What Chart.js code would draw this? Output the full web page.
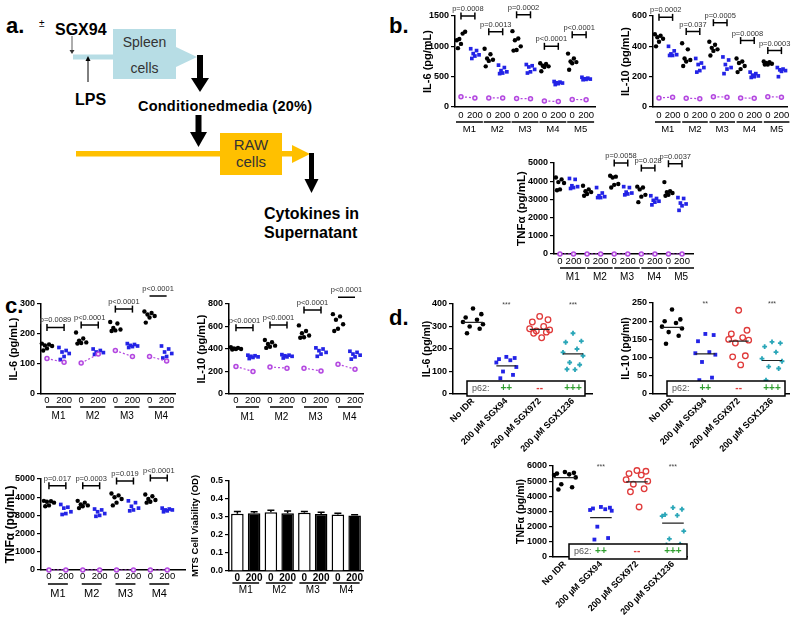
<!DOCTYPE html>
<html>
<head>
<meta charset="utf-8">
<script src="https://cdn.jsdelivr.net/npm/chart.js@4.4.1/dist/chart.umd.min.js"></script>
<style>
  body { margin: 0; background: #fff; width: 800px; height: 619px; position: relative; overflow: hidden; }
  canvas { position: absolute; }
  svg { position: absolute; left: 0; top: 0; }
</style>
</head>
<body>
<svg width="800" height="619" font-family="Liberation Sans, Arial, sans-serif">
  <text x="6" y="33" font-size="22" font-weight="bold">a.</text>
  <text x="389" y="33" font-size="22" font-weight="bold">b.</text>
  <text x="5" y="313" font-size="22" font-weight="bold">c.</text>
  <text x="389" y="325" font-size="22" font-weight="bold">d.</text>

  <text x="39" y="27" font-size="10">±</text>
  <text x="55" y="35" font-size="16" font-weight="bold">SGX94</text>
  <line x1="72" y1="36" x2="72" y2="50" stroke="#333" stroke-width="0.8"/>
  <polygon points="69.5,50 74.5,50 72,54" fill="#333"/>
  <rect x="73" y="54.5" width="106" height="5" fill="#b7dde5"/>
  <rect x="113" y="29" width="63" height="50" fill="#b7dde5"/>
  <polygon points="176,47 197,57 176,67" fill="#b7dde5"/>
  <text x="144.5" y="47" font-size="14" fill="#333" text-anchor="middle">Spleen</text>
  <text x="144.5" y="73" font-size="14" fill="#333" text-anchor="middle">cells</text>
  <line x1="88" y1="82" x2="88" y2="61" stroke="#000" stroke-width="1"/>
  <polygon points="85.5,61 90.5,61 88,56" fill="#000"/>
  <text x="75" y="105" font-size="16" font-weight="bold">LPS</text>
  <rect x="197" y="55" width="6" height="25"/>
  <polygon points="191,78 209,78 200,92"/>
  <text x="138" y="111" font-size="14.5" font-weight="bold" textLength="174">Conditionedmedia (20%)</text>
  <rect x="195.5" y="115" width="6" height="19"/>
  <polygon points="190,132 207,132 198.5,147"/>
  <rect x="76" y="151" width="217" height="5.5" fill="#ffc000"/>
  <polygon points="292,145 310,154 292,163" fill="#ffc000"/>
  <rect x="220" y="133" width="62" height="42" fill="#ffc000"/>
  <text x="251" y="150" font-size="15" fill="#333" text-anchor="middle">RAW</text>
  <text x="251" y="167" font-size="15" fill="#333" text-anchor="middle">cells</text>
  <rect x="309" y="153" width="5" height="28"/>
  <polygon points="304.5,179 318.5,179 311.5,193"/>
  <text x="264" y="219" font-size="16" font-weight="bold">Cytokines in</text>
  <text x="264" y="238" font-size="16" font-weight="bold">Supernatant</text>
</svg>

<canvas id="bIL6"></canvas>
<canvas id="bIL10"></canvas>
<canvas id="bTNF"></canvas>
<canvas id="cIL6"></canvas>
<canvas id="cIL10"></canvas>
<canvas id="cTNF"></canvas>
<canvas id="cMTS"></canvas>
<canvas id="dIL6"></canvas>
<canvas id="dIL10"></canvas>
<canvas id="dTNF"></canvas>

<script>
// ---- data ----
const doses = ['0', '200'];
const mice5 = ['M1', 'M2', 'M3', 'M4', 'M5'];
const mice4 = ['M1', 'M2', 'M3', 'M4'];
const dCats = ['No IDR', '200 µM SGX94', '200 µM SGX972', '200 µM SGX1236'];

// b. IL-6
const bIL6_0 = [[1100, 1210, 1120, 1240, 1040, 970], [960, 870, 800, 780, 760, 670], [1250, 1130, 1100, 1000, 940, 930], [720, 710, 680, 670, 660, 590], [880, 800, 750, 740, 720, 615]];
const bIL6_200 = [[960, 930, 880, 860, 840, 800], [690, 650, 600, 580, 560, 550], [700, 680, 660, 620, 580, 560], [420, 410, 400, 395, 385, 370], [490, 475, 465, 460, 455, 450]];
const bIL6_c0 = [170, 150, 140, 100, 125];
const bIL6_c200 = [150, 150, 135, 90, 120];
const bIL6_brY = [1500, 1240, 1520, 1000, 1190];
const bIL6_p = ['p=0.0008', 'p=0.0013', 'p=0.0002', 'p<0.0001', 'p<0.0001'];

// b. IL-10
const bIL10_0 = [[480, 470, 460, 450, 430, 400], [420, 380, 320, 310, 300, 270], [430, 410, 390, 380, 370, 340], [320, 300, 290, 270, 250, 230], [300, 295, 290, 285, 280, 280]];
const bIL10_200 = [[400, 370, 350, 345, 340, 340], [320, 290, 280, 260, 240, 230], [330, 310, 280, 260, 250, 220], [230, 220, 210, 205, 200, 195], [260, 250, 245, 240, 235, 200]];
const bIL10_c0 = [60, 58, 68, 60, 68];
const bIL10_c200 = [65, 55, 65, 58, 65];
const bIL10_brY = [591, 497, 556, 438, 372];
const bIL10_p = ['p=0.0002', 'p=0.037', 'p=0.0005', 'p=0.0008', 'p=0.0003'];

// b. TNFa
const bTNF_0 = [[4200, 4100, 3950, 3900, 3550, 3500], [3750, 3550, 3450, 3400, 3300, 3200], [4300, 4250, 4200, 3850, 3800, 3650], [3700, 3650, 3550, 3250, 3150, 2850], [3950, 3450, 3400, 3350, 3250, 3200]];
const bTNF_200 = [[4150, 4100, 3750, 3700, 3650, 3600], [3650, 3350, 3200, 3150, 3100, 3100], [3700, 3650, 3400, 3350, 3300, 3250], [3200, 3050, 2950, 2900, 2850, 2700], [3100, 3050, 2800, 2750, 2650, 2400]];
const bTNF_c0 = [0, 0, 0, 0, 0];
const bTNF_c200 = [0, 0, 0, 0, 0];
const bTNF_brY = [null, null, 5000, 4720, 4960];
const bTNF_p = ['', '', 'p=0.0058', 'p=0.028', 'p=0.0037'];

// c. IL-6
const cIL6_0 = [[168, 165, 162, 160, 152, 145], [205, 185, 178, 172, 170, 168], [240, 235, 220, 215, 212, 210], [275, 270, 265, 260, 255, 238]];
const cIL6_200 = [[155, 145, 140, 135, 125, 115], [150, 145, 140, 138, 135, 132], [168, 165, 162, 160, 158, 155], [160, 150, 140, 135, 125, 120]];
const cIL6_c0 = [118, 103, 145, 125];
const cIL6_c200 = [106, 133, 125, 110];
const cIL6_brY = [222, 230, 283, 327];
const cIL6_p = ['p=0.0089', 'p<0.0001', 'p<0.0001', 'p<0.0001'];

// c. IL-10
const cIL10_0 = [[415, 410, 405, 400, 400, 395], [480, 460, 445, 430, 420, 410], [610, 560, 540, 520, 505, 500], [710, 690, 660, 620, 580, 560]];
const cIL10_200 = [[345, 340, 335, 330, 325, 315], [350, 345, 340, 335, 330, 320], [410, 400, 385, 370, 355, 335], [380, 370, 355, 345, 330, 310]];
const cIL10_c0 = [245, 240, 230, 265];
const cIL10_c200 = [200, 230, 205, 220];
const cIL10_brY = [590, 614, 747, 860];
const cIL10_p = ['p<0.0001', 'p<0.0001', 'p<0.0001', 'p<0.0001'];

// c. TNFa
const cTNF_0 = [[3800, 3780, 3750, 3700, 3550, 3500], [3800, 3700, 3600, 3550, 3500, 3400], [4200, 4100, 4000, 3900, 3700, 3550], [4150, 4050, 3900, 3850, 3750, 3700]];
const cTNF_200 = [[3600, 3450, 3400, 3200, 3100, 3050], [3350, 3300, 3200, 3100, 3000, 2950], [3800, 3700, 3500, 3400, 3300, 3250], [3400, 3350, 3300, 3300, 3250, 3200]];
const cTNF_c0 = [0, 0, 0, 0];
const cTNF_c200 = [0, 0, 0, 0];
const cTNF_brY = [4630, 4630, 4890, 5055];
const cTNF_p = ['p=0.017', 'p=0.0003', 'p=0.019', 'p<0.0001'];

// c. MTS
const mtsLabels = ['0', '200', '0', '200', '0', '200', '0', '200'];
const mtsMean = [0.318, 0.321, 0.326, 0.321, 0.324, 0.316, 0.314, 0.308];
const mtsErr = [0.012, 0.008, 0.012, 0.012, 0.006, 0.010, 0.007, 0.004];

// d.
const dIL6 = [[380, 355, 340, 330, 320, 310, 300, 290, 270], [165, 160, 155, 150, 140, 120, 100, 85, 70], [345, 330, 320, 300, 290, 285, 280, 275, 270, 250], [270, 235, 230, 200, 185, 170, 140, 130, 110, 108]];
const dIL6_mean = [318, 125, 287, 178];
const dIL6_stars = ['', '***', '', '***'];
const dIL10 = [[232, 205, 200, 195, 185, 180, 170, 160, 138], [165, 162, 145, 115, 112, 108, 88, 45, 38], [230, 175, 165, 155, 150, 148, 140, 105, 102, 80], [143, 140, 130, 115, 97, 90, 75, 70, 38]];
const dIL10_mean = [183, 110, 145, 92];
const dIL10_stars = ['', '**', '', '***'];
const dTNF = [[5600, 5550, 5500, 5450, 5400, 5250, 4800, 4600, 4450], [3300, 3250, 3200, 3150, 3100, 3050, 2000, 1250, 1150], [5700, 5650, 5500, 5400, 5100, 5000, 4800, 4500, 4300, 3300], [3250, 3150, 2800, 2750, 2700, 1700, 1200, 850, 800]];
const dTNF_mean = [5230, 2600, 4950, 2230];
const dTNF_stars = ['', '***', '', '***'];
const p62 = ['', '++', '--', '+++'];

// ---- drawing ----
const FONT = '"Liberation Sans", Arial, sans-serif';
Chart.defaults.font.family = FONT;
Chart.defaults.color = '#000';
const blue = '#2323e6', purple = '#b347e0', teal = '#2aa6b8', red = '#e03a3a', green = '#2e9e2e';
const jit = [-0.3, 0.12, -0.12, 0.3, 0.0, -0.22];
const jitD = [0, 0.25, -0.22, 0.12, -0.3, 0.3, -0.1, 0.2, -0.18, 0.06];

function place(id, r) {
  const c = document.getElementById(id);
  const w = r.x1 - r.x0 + r.W + r.R;
  const h = r.yB - r.yT + r.T + r.H;
  c.style.left = (r.x0 - r.W) + 'px';
  c.style.top = (r.yT - r.T) + 'px';
  c.width = w; c.height = h;
  return c;
}

function yAxis(r, max, step, title, tsize, fmt) {
  return {
    min: 0, max: max,
    ticks: { stepSize: step, padding: 2, color: '#000', font: { size: 9, weight: 'bold' }, callback: fmt || (v => v) },
    grid: { drawOnChartArea: false, tickLength: 4, color: '#000', lineWidth: 1.2 },
    border: { color: '#000', width: 1.5 },
    title: { display: true, text: title, color: '#000', font: { size: tsize || 11, weight: 'bold' }, padding: { top: 3, bottom: 0 } },
    afterFit: s => { s.width = r.W; }
  };
}

function baseOpts(r, scales) {
  return {
    responsive: false, animation: false, events: [],
    layout: { padding: { top: r.T, right: r.R, bottom: 0, left: 0 } },
    plugins: { legend: { display: false }, tooltip: { enabled: false } },
    scales: scales
  };
}

function groupLabels(groups, s) {
  return {
    id: 'groups',
    afterDraw(chart) {
      const ctx = chart.ctx, xs = chart.scales.x, yb = chart.chartArea.bottom;
      ctx.save();
      ctx.strokeStyle = '#000'; ctx.lineWidth = 1.5; ctx.fillStyle = '#000';
      ctx.font = s.size + 'px ' + FONT; ctx.textAlign = 'center';
      groups.forEach((m, g) => {
        const a = xs.getPixelForValue(2 * g) - s.ul[0], b = xs.getPixelForValue(2 * g + 1) + s.ul[1];
        ctx.beginPath(); ctx.moveTo(a, yb + s.line); ctx.lineTo(b, yb + s.line); ctx.stroke();
        ctx.fillText(m, (a + b) / 2, yb + s.text);
      });
      ctx.restore();
    }
  };
}

function pLabels(brY, p) {
  return {
    id: 'plabels',
    afterDraw(chart) {
      const ctx = chart.ctx, xs = chart.scales.x, ys = chart.scales.y;
      ctx.save();
      ctx.fillStyle = '#333'; ctx.font = '7.5px ' + FONT; ctx.textAlign = 'center';
      brY.forEach((y, g) => {
        if (y == null) return;
        const xm = (xs.getPixelForValue(2 * g) + xs.getPixelForValue(2 * g + 1)) / 2;
        ctx.fillText(p[g], xm, ys.getPixelForValue(y) - 5);
      });
      ctx.restore();
    }
  };
}

function doseChart(id, r, o) {
  const n = o.groups.length;
  const pts = (arr, off) => arr.flatMap((vals, g) => vals.map((y, i) => ({ x: 2 * g + off + jit[i], y: y })));
  const ctrl = [], br = [];
  o.c0.forEach((y, g) => { ctrl.push({ x: 2 * g, y: y }, { x: 2 * g + 1, y: o.c200[g] }, { x: 2 * g + 1.5, y: null }); });
  o.brY.forEach((y, g) => { if (y != null) br.push({ x: 2 * g, y: y }, { x: 2 * g + 1, y: y }, { x: 2 * g + 1.5, y: null }); });
  new Chart(place(id, r), {
    type: 'scatter',
    data: {
      datasets: [
        { type: 'line', data: ctrl, borderColor: purple, borderWidth: 1.2, borderDash: [2, 2], spanGaps: false,
          pointStyle: 'circle', pointRadius: 2, pointBorderWidth: 1.5, pointBorderColor: purple, pointBackgroundColor: '#f3e0fa', clip: false },
        { data: pts(o.v0, 0), pointStyle: 'circle', pointRadius: 2.2, pointBackgroundColor: '#000', pointBorderWidth: 0, clip: false },
        { data: pts(o.v200, 1), pointStyle: 'rect', pointRadius: 2.6, pointBackgroundColor: blue, pointBorderWidth: 0, clip: false },
        { type: 'line', data: br, borderColor: '#000', borderWidth: 1.5, spanGaps: false,
          pointStyle: 'line', pointRotation: 90, pointRadius: 3.5, pointBorderWidth: 1.5, pointBorderColor: '#000', clip: false }
      ]
    },
    options: baseOpts(r, {
      x: {
        type: 'linear', min: o.xMin, max: o.xMax,
        afterBuildTicks: s => { s.ticks = []; for (let i = 0; i < 2 * n; i++) s.ticks.push({ value: i }); },
        ticks: { autoSkip: false, minRotation: 0, maxRotation: 0, padding: o.tickPad, color: '#000', font: { size: 9.5 }, callback: v => doses[v % 2] },
        grid: { drawOnChartArea: false, drawTicks: false },
        border: { color: '#000', width: 1.5 },
        afterFit: s => { s.height = r.H; }
      },
      y: yAxis(r, o.yMax, o.yStep, o.title, o.tsize)
    }),
    plugins: [pLabels(o.brY, o.p), groupLabels(o.groups, o.lab)]
  });
}

function dotChart(id, r, o) {
  const styles = [
    { pointStyle: 'circle', pointRadius: 2.3, pointBackgroundColor: '#000', pointBorderWidth: 0 },
    { pointStyle: 'rect', pointRadius: 2.7, pointBackgroundColor: blue, pointBorderWidth: 0 },
    { pointStyle: 'circle', pointRadius: 2.8, pointBackgroundColor: 'rgba(0,0,0,0)', pointBorderColor: red, pointBorderWidth: 1.3 },
    { pointStyle: 'cross', pointRadius: 2.4, pointBorderColor: teal, pointBorderWidth: 1.8 }
  ];
  const ds = o.vals.map((arr, c) => Object.assign({ data: arr.map((y, i) => ({ x: c + jitD[i], y: y })), clip: false }, styles[c]));
  const means = [];
  o.mean.forEach((m, c) => { means.push({ x: c - 0.3, y: m }, { x: c + 0.3, y: m }, { x: c + 0.5, y: null }); });
  ds.unshift({ type: 'line', data: means, borderColor: '#222', borderWidth: 1.2, pointRadius: 0, spanGaps: false });
  new Chart(place(id, r), {
    type: 'scatter',
    data: { datasets: ds },
    options: baseOpts(r, {
      x: {
        type: 'linear', min: o.xMin, max: o.xMax,
        afterBuildTicks: s => { s.ticks = dCats.map((_, i) => ({ value: i })); },
        ticks: { autoSkip: false, minRotation: 45, maxRotation: 45, padding: 2, color: '#000', font: { size: 9, weight: 'bold' }, callback: v => dCats[v] },
        grid: { drawOnChartArea: false, drawTicks: false },
        border: { color: '#000', width: 1.5 },
        afterFit: s => { s.height = r.H; }
      },
      y: yAxis(r, o.yMax, o.yStep, o.title, 10.5)
    }),
    plugins: [{
      id: 'dannot',
      afterDatasetsDraw(chart) {
        const ctx = chart.ctx, xs = chart.scales.x, a = chart.chartArea;
        ctx.save();
        const x0 = a.left + o.box[0], x1 = a.right - o.box[1], y0 = a.bottom - 13, y1 = a.bottom + 2;
        ctx.fillStyle = '#fff'; ctx.fillRect(x0, y0, x1 - x0, y1 - y0);
        ctx.strokeStyle = '#000'; ctx.lineWidth = 1.5; ctx.strokeRect(x0, y0, x1 - x0, y1 - y0);
        ctx.textBaseline = 'middle';
        ctx.font = '9px ' + FONT; ctx.fillStyle = '#555'; ctx.textAlign = 'left';
        ctx.fillText('p62:', x0 + 5, (y0 + y1) / 2);
        ctx.font = 'bold 10px ' + FONT; ctx.textAlign = 'center';
        p62.forEach((t, c) => {
          if (!t) return;
          ctx.fillStyle = t === '--' ? red : green;
          ctx.fillText(t, xs.getPixelForValue(c), (y0 + y1) / 2);
        });
        ctx.font = '7px ' + FONT; ctx.fillStyle = '#444'; ctx.textBaseline = 'alphabetic';
        o.stars.forEach((t, c) => { if (t) ctx.fillText(t, xs.getPixelForValue(c), a.top + 3); });
        ctx.restore();
      }
    }]
  });
}

// b.
doseChart('bIL6', { x0: 455, x1: 595, yT: 16, yB: 107, W: 37, H: 32, T: 16, R: 8 },
  { groups: mice5, v0: bIL6_0, v200: bIL6_200, c0: bIL6_c0, c200: bIL6_c200, brY: bIL6_brY, p: bIL6_p,
    yMax: 1500, yStep: 500, title: 'IL-6 (pg/mL)', xMin: -0.43, xMax: 9.64, tickPad: 3,
    lab: { ul: [5, 8], line: 15, text: 25, size: 9.5 } });
doseChart('bIL10', { x0: 653, x1: 787, yT: 16, yB: 107, W: 37, H: 32, T: 16, R: 10 },
  { groups: mice5, v0: bIL10_0, v200: bIL10_200, c0: bIL10_c0, c200: bIL10_c200, brY: bIL10_brY, p: bIL10_p,
    yMax: 600, yStep: 200, title: 'IL-10 (pg/mL)', xMin: -0.44, xMax: 9.41, tickPad: 3,
    lab: { ul: [4, 8], line: 15, text: 25, size: 9.5 } });
doseChart('bTNF', { x0: 554, x1: 693, yT: 163, yB: 254, W: 42, H: 32, T: 22, R: 8 },
  { groups: mice5, v0: bTNF_0, v200: bTNF_200, c0: bTNF_c0, c200: bTNF_c200, brY: bTNF_brY, p: bTNF_p,
    yMax: 5000, yStep: 1000, title: 'TNFα (pg/mL)', tsize: 11.5, xMin: -0.44, xMax: 9.81, tickPad: 2,
    lab: { ul: [0, 12], line: 14, text: 26, size: 10 } });

// c.
doseChart('cIL6', { x0: 41, x1: 175, yT: 304, yB: 394, W: 37, H: 32, T: 24, R: 8 },
  { groups: mice4, v0: cIL6_0, v200: cIL6_200, c0: cIL6_c0, c200: cIL6_c200, brY: cIL6_brY, p: cIL6_p,
    yMax: 300, yStep: 100, title: 'IL-6 (pg/mL)', xMin: -0.35, xMax: 7.49, tickPad: 1,
    lab: { ul: [1, 7], line: 13, text: 25, size: 10 } });
doseChart('cIL10', { x0: 229, x1: 363, yT: 304, yB: 394, W: 37, H: 32, T: 24, R: 8 },
  { groups: mice4, v0: cIL10_0, v200: cIL10_200, c0: cIL10_c0, c200: cIL10_c200, brY: cIL10_brY, p: cIL10_p,
    yMax: 800, yStep: 200, title: 'IL-10 (pg/mL)', xMin: -0.41, xMax: 7.47, tickPad: 1,
    lab: { ul: [0, 6], line: 13, text: 26, size: 10 } });
doseChart('cTNF', { x0: 41, x1: 185, yT: 479, yB: 570, W: 41, H: 32, T: 24, R: 8 },
  { groups: mice4, v0: cTNF_0, v200: cTNF_200, c0: cTNF_c0, c200: cTNF_c200, brY: cTNF_brY, p: cTNF_p,
    yMax: 5000, yStep: 1000, title: 'TNFα (pg/mL)', tsize: 12, xMin: -0.47, xMax: 8.05, tickPad: 1,
    lab: { ul: [1, 2], line: 14, text: 27, size: 11 } });

const rM = { x0: 229, x1: 363, yT: 481, yB: 571, W: 42, H: 28, T: 8, R: 8 };
new Chart(place('cMTS', rM), {
  type: 'bar',
  data: {
    labels: mtsLabels,
    datasets: [{ data: mtsMean, backgroundColor: mtsMean.map((_, i) => i % 2 ? '#000' : '#fff'),
      borderColor: '#000', borderWidth: 1.5, barPercentage: 0.75, categoryPercentage: 1 }]
  },
  options: baseOpts(rM, {
    x: {
      ticks: { autoSkip: false, maxRotation: 0, padding: 1, color: '#000', font: { size: 10, weight: 'bold' } },
      grid: { drawOnChartArea: false, drawTicks: false },
      border: { color: '#000', width: 1.5 },
      afterFit: s => { s.height = rM.H; }
    },
    y: yAxis(rM, 0.5, 0.1, 'MTS Cell Viability (OD)', 9.5, v => v.toFixed(1))
  }),
  plugins: [{
    id: 'err',
    afterDatasetsDraw(chart) {
      const ctx = chart.ctx, ys = chart.scales.y;
      ctx.save(); ctx.strokeStyle = '#000'; ctx.lineWidth = 1.5;
      chart.getDatasetMeta(0).data.forEach((bar, i) => {
        const y0 = ys.getPixelForValue(mtsMean[i]), y1 = ys.getPixelForValue(mtsMean[i] + mtsErr[i]);
        ctx.beginPath(); ctx.moveTo(bar.x, y0); ctx.lineTo(bar.x, y1);
        ctx.moveTo(bar.x - 3.5, y1); ctx.lineTo(bar.x + 3.5, y1); ctx.stroke();
      });
      ctx.restore();
    }
  }, groupLabels(mice4, { ul: [5, 5], line: 12, text: 22, size: 10 })]
});

// d.
dotChart('dIL6', { x0: 453, x1: 592, yT: 304, yB: 394, W: 35, H: 60, T: 10, R: 6 },
  { vals: dIL6, mean: dIL6_mean, stars: dIL6_stars, yMax: 400, yStep: 100, title: 'IL-6 (pg/ml)', xMin: -0.6, xMax: 3.57, box: [14, 7] });
dotChart('dIL10', { x0: 653, x1: 789, yT: 303, yB: 394, W: 36, H: 60, T: 10, R: 6 },
  { vals: dIL10, mean: dIL10_mean, stars: dIL10_stars, yMax: 250, yStep: 50, title: 'IL-10 (pg/ml)', xMin: -0.57, xMax: 3.51, box: [14, 4] });
dotChart('dTNF', { x0: 553, x1: 687, yT: 466, yB: 557, W: 41, H: 62, T: 10, R: 6 },
  { vals: dTNF, mean: dTNF_mean, stars: dTNF_stars, yMax: 6000, yStep: 1000, title: 'TNFα (pg/ml)', xMin: -0.33, xMax: 3.39, box: [16, 0] });
</script>
</body>
</html>
